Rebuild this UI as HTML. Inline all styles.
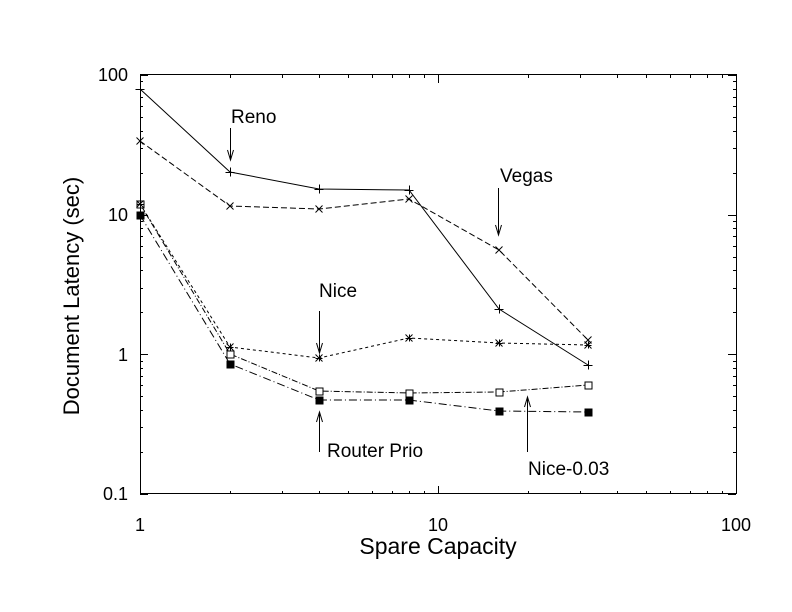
<!DOCTYPE html>
<html><head><meta charset="utf-8"><style>
html,body{margin:0;padding:0;background:#fff;}
svg{display:block;}
text{font-family:"Liberation Sans",Arial,sans-serif;fill:#000;}
</style></head><body>
<svg width="792" height="612" viewBox="0 0 792 612" xmlns="http://www.w3.org/2000/svg">
<rect width="792" height="612" fill="#fff"/>
<g id="ticks" stroke="#000" stroke-width="1" fill="none" shape-rendering="crispEdges"></g>
<rect x="140.5" y="74.5" width="596" height="419" fill="none" stroke="#000" stroke-width="1" shape-rendering="crispEdges"/>

<!-- series -->
<g fill="none" stroke="#000" stroke-width="1">
<polyline points="140,89 230,172 319,189 409,190 499,309 588,365"/>
<polyline points="140,141 230,206 319,209 409,199 499,250 588,340" stroke-dasharray="6,3"/>
<polyline points="140,204 230,347 319,358 409,338 499,343 588,345" stroke-dasharray="3,3"/>
<polyline points="140,204 230,354 319,391 409,393 499,392 588,385" stroke-dasharray="6,2,1,2"/>
<polyline points="140,215 230,364 319,400 409,400 499,411 588,412" stroke-dasharray="8,3,1,3"/>
</g>

<g id="markers" stroke="#000" stroke-width="1" fill="none"></g>

<!-- annotations -->
<g stroke="#000" stroke-width="1" fill="none">
<line x1="230.5" y1="128" x2="230.5" y2="160"/><polyline points="227.5,150 230.5,160 233.5,150"/>
<line x1="498.5" y1="188" x2="498.5" y2="235"/><polyline points="495.5,225 498.5,235 501.5,225"/>
<line x1="319.5" y1="311" x2="319.5" y2="353"/><polyline points="316.5,343 319.5,353 322.5,343"/>
<line x1="319.5" y1="412" x2="319.5" y2="452"/><polyline points="316.5,422 319.5,412 322.5,422"/>
<line x1="527.5" y1="397" x2="527.5" y2="452"/><polyline points="524.5,407 527.5,397 530.5,407"/>
</g>
<g font-size="19">
<text x="231" y="123">Reno</text>
<text x="500" y="182">Vegas</text>
<text x="319" y="297">Nice</text>
<text x="327" y="457">Router Prio</text>
<text x="528" y="475">Nice-0.03</text>
</g>

<!-- tick labels -->
<g font-size="18" text-anchor="end">
<text x="128" y="81">100</text>
<text x="128" y="221">10</text>
<text x="128" y="361">1</text>
<text x="128" y="500">0.1</text>
</g>
<g font-size="18" text-anchor="middle">
<text x="140" y="531">1</text>
<text x="438" y="531">10</text>
<text x="736" y="531">100</text>
</g>
<text x="438" y="554" font-size="23" text-anchor="middle">Spare Capacity</text>
<text transform="translate(79,296) rotate(-90)" font-size="22" text-anchor="middle">Document Latency (sec)</text>

<script>
(function(){
var ns="http://www.w3.org/2000/svg";
var t=document.getElementById("ticks");
function ln(g,x1,y1,x2,y2){var l=document.createElementNS(ns,"line");l.setAttribute("x1",x1);l.setAttribute("y1",y1);l.setAttribute("x2",x2);l.setAttribute("y2",y2);g.appendChild(l);}
var L=140,R=736,T=75,B=494,dx=298,dy=(B-T)/3;
for(var d=0;d<2;d++){for(var k=1;k<=9;k++){var x=Math.round(L+dx*(d+Math.log10(k)))+0.5;var len=(k==1)?8:3;ln(t,x,B,x,B-len);ln(t,x,T,x,T+len);}}
ln(t,R+0.5,B,R+0.5,B-8);ln(t,R+0.5,T,R+0.5,T+8);
for(var d=0;d<3;d++){for(var k=1;k<=9;k++){var y=Math.round(B-dy*(d+Math.log10(k)))+0.5;var len=(k==1)?8:3;ln(t,L,y,L+len,y);ln(t,R,y,R-len,y);}}
ln(t,L,T+0.5,L+8,T+0.5);ln(t,R,T+0.5,R-8,T+0.5);
var m=document.getElementById("markers");
function plus(x,y,s){ln(m,x-s,y+0.5,x+s,y+0.5);ln(m,x+0.5,y-s,x+0.5,y+s);}
function cross(x,y,s){ln(m,x-s,y-s,x+s,y+s);ln(m,x-s,y+s,x+s,y-s);}
function sq(x,y,s,f){var r=document.createElementNS(ns,"rect");r.setAttribute("x",x-s+0.5);r.setAttribute("y",y-s+0.5);r.setAttribute("width",2*s);r.setAttribute("height",2*s);if(f){r.setAttribute("fill","#000");}else{r.setAttribute("fill","#fff");}m.appendChild(r);}
var reno=[[140,89],[230,172],[319,189],[409,190],[499,309],[588,365]];
var vegas=[[140,141],[230,206],[319,209],[409,199],[499,250],[588,340]];
var nice=[[140,204],[230,347],[319,358],[409,338],[499,343],[588,345]];
var n03=[[140,204],[230,354],[319,391],[409,393],[499,392],[588,385]];
var rp=[[140,215],[230,364],[319,400],[409,400],[499,411],[588,412]];
n03.forEach(function(p){sq(p[0],p[1],3.5,false);});
rp.forEach(function(p){sq(p[0],p[1],3.5,true);});
reno.forEach(function(p){plus(p[0],p[1],4.5);});
vegas.forEach(function(p){cross(p[0],p[1],3.5);});
nice.forEach(function(p){plus(p[0],p[1],3.5);cross(p[0],p[1],3.5);});
})();
</script>
</svg>
</body></html>
